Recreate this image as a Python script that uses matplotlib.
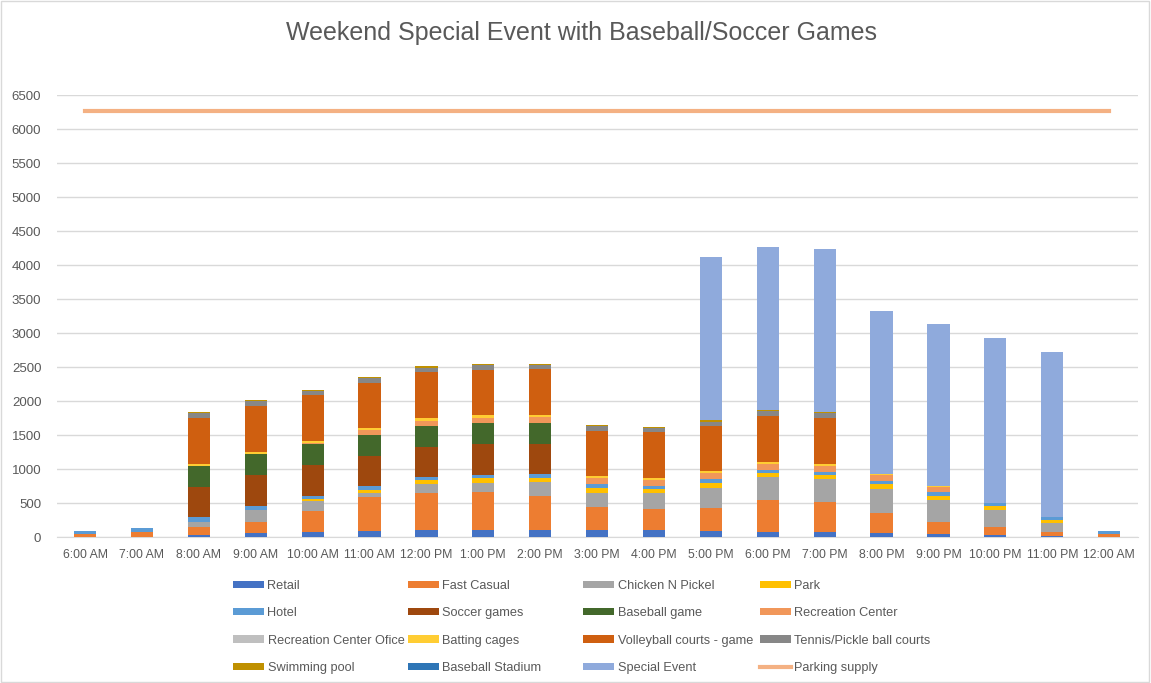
import numpy as np
import matplotlib.pyplot as plt
from matplotlib.patches import Patch, Rectangle
from matplotlib.lines import Line2D

plt.rc('font', family=['Liberation Sans', 'DejaVu Sans'])

hours = ["6:00 AM", "7:00 AM", "8:00 AM", "9:00 AM", "10:00 AM", "11:00 AM",
         "12:00 PM", "1:00 PM", "2:00 PM", "3:00 PM", "4:00 PM", "5:00 PM",
         "6:00 PM", "7:00 PM", "8:00 PM", "9:00 PM", "10:00 PM", "11:00 PM",
         "12:00 AM"]

retail = [5, 5, 29, 54, 78, 93, 103, 108, 108, 108, 103, 88, 74, 74, 64, 49, 34, 10, 5]
fast_casual = [45, 70, 123, 172, 309, 490, 549, 549, 500, 338, 304, 333, 466, 446, 284, 177, 108, 59, 39]
chicken = [0, 0, 64, 172, 147, 64, 128, 137, 196, 206, 235, 304, 343, 328, 363, 319, 250, 137, 0]
park = [0, 0, 0, 0, 20, 49, 59, 69, 69, 69, 64, 64, 54, 59, 69, 64, 69, 44, 0]
hotel = [40, 60, 74, 59, 49, 49, 39, 49, 49, 54, 49, 59, 54, 54, 49, 59, 44, 49, 49]
soccer = [0, 0, 451, 456, 456, 451, 451, 456, 451, 0, 0, 0, 0, 0, 0, 0, 0, 0, 0]
baseball = [0, 0, 299, 304, 304, 309, 304, 304, 309, 0, 0, 0, 0, 0, 0, 0, 0, 0, 0]
rec_center = [0, 0, 0, 0, 15, 74, 78, 78, 78, 98, 88, 98, 83, 83, 78, 64, 0, 0, 0]
rec_office = [0] * 19
batting = [0, 0, 34, 29, 29, 25, 39, 39, 39, 25, 25, 25, 29, 29, 15, 15, 0, 0, 0]
volleyball = [0, 0, 672, 677, 681, 667, 672, 667, 667, 657, 672, 662, 672, 672, 0, 0, 0, 0, 0]
tennis = [0, 0, 78, 78, 59, 69, 69, 69, 69, 74, 64, 64, 74, 74, 0, 0, 0, 0, 0]
swimming = [0, 0, 15, 10, 20, 20, 20, 15, 15, 20, 20, 20, 20, 20, 0, 0, 0, 0, 0]
stadium = [0] * 19
special = [0, 0, 0, 0, 0, 0, 0, 0, 0, 0, 0, 2406, 2401, 2397, 2402, 2386, 2422, 2415, 0]
parking_supply = [6262] * 19

series = [
    ("Retail", retail, "#4472C4"),
    ("Fast Casual", fast_casual, "#ED7D31"),
    ("Chicken N Pickel", chicken, "#A5A5A5"),
    ("Park", park, "#FFC000"),
    ("Hotel", hotel, "#5B9BD5"),
    ("Soccer games", soccer, "#9E480E"),
    ("Baseball game", baseball, "#43682B"),
    ("Recreation Center", rec_center, "#F1975A"),
    ("Recreation Center Ofice", rec_office, "#BFBFBF"),
    ("Batting cages", batting, "#FFCD33"),
    ("Volleyball courts - game", volleyball, "#CF5F10"),
    ("Tennis/Pickle ball courts", tennis, "#878787"),
    ("Swimming pool", swimming, "#BF9000"),
    ("Baseball Stadium", stadium, "#2E75B6"),
    ("Special Event", special, "#8FAADC"),
]

W, H = 1151, 683
fig = plt.figure(figsize=(W / 100, H / 100), dpi=100)
ax = fig.add_axes([56.6 / W, 1 - 537 / H, 1081 / W, 442 / H])

x = np.arange(len(hours))
bottom = np.zeros(len(hours))
handles = []
for name, vals, col in series:
    vals = np.array(vals, dtype=float)
    ax.bar(x, vals, 0.39, bottom=bottom, color=col, zorder=3)
    bottom += vals
    handles.append(Patch(facecolor=col, label=name))

ax.plot(x, parking_supply, color="#F4B183", lw=3, zorder=4)
handles.append(Line2D([], [], color="#F4B183", lw=3, label="Parking supply"))

ax.set_xlim(-0.5, len(hours) - 0.5)
ax.set_ylim(0, 6500)
ax.set_yticks(np.arange(0, 6501, 500))
ax.set_xticks(x)
ax.set_xticklabels(hours)
ax.grid(axis='y', color="#D9D9D9", lw=1, zorder=0)
for s in ["top", "right", "left"]:
    ax.spines[s].set_visible(False)
ax.spines["bottom"].set_color("#D9D9D9")
ax.tick_params(length=0, colors="#595959", labelsize=9.5)
ax.tick_params(axis='x', pad=9, labelsize=8.8)
ax.tick_params(axis='y', pad=11)

fig.text(581 / W, 1 - 33 / H, "Weekend Special Event with Baseball/Soccer Games",
         ha='center', va='center', fontsize=18, color="#595959")

# legend drawn as four columns of equal width
col_x = [233, 408, 583, 760]
for c in range(4):
    hs = handles[c::4]
    fig.legend(handles=hs, loc='upper left',
               bbox_to_anchor=(col_x[c] / W, 1 - 580 / H),
               frameon=False, borderpad=0, borderaxespad=0,
               handlelength=2.4, handleheight=0.5, handletextpad=0.3,
               labelspacing=1.2, fontsize=9.2, labelcolor="#595959")

fig.add_artist(Rectangle((0.001, 0.001), 0.997, 0.997, transform=fig.transFigure,
                         fill=False, edgecolor="#D9D9D9", lw=1))

fig.savefig("out.png", dpi=100)
